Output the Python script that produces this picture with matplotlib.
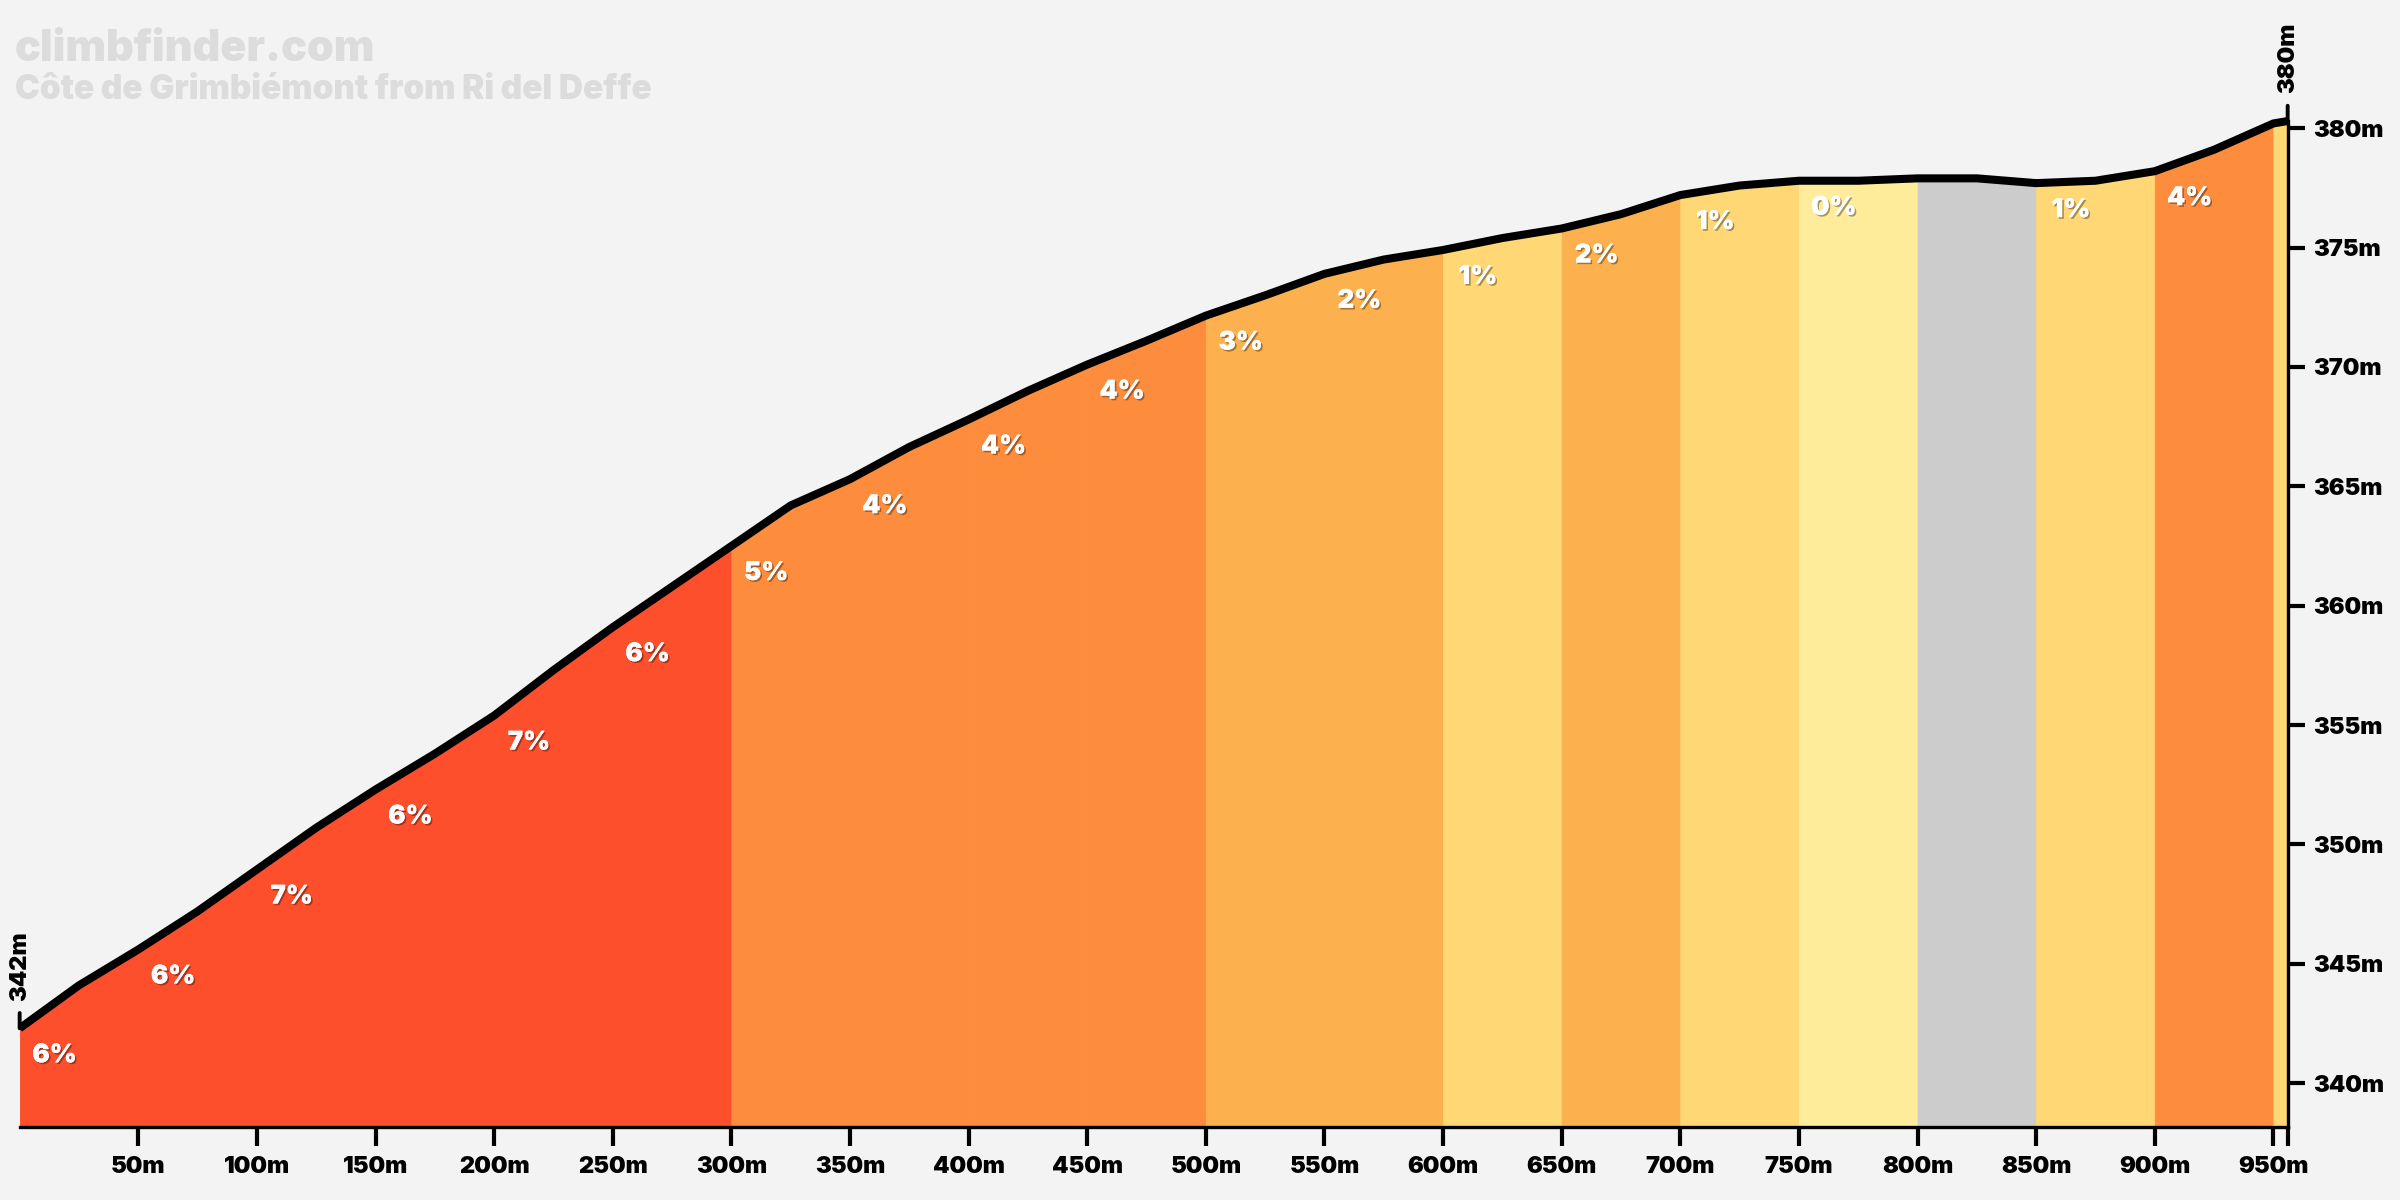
import numpy as np
import matplotlib
matplotlib.use('Agg')
import matplotlib.pyplot as plt
import matplotlib.patheffects as pe

plt.rcParams['font.family'] = ['Inter', 'DejaVu Sans']

### DATA
# elevation profile, every 25m (last point is the summit)
dist = [0, 25, 50, 75, 100, 125, 150, 175, 200, 225, 250, 275, 300, 325, 350, 375,
        400, 425, 450, 475, 500, 525, 550, 575, 600, 625, 650, 675, 700, 725, 750,
        775, 800, 825, 850, 875, 900, 925, 950, 956]
elev = [342.3, 344.1, 345.6, 347.2, 348.95, 350.7, 352.3, 353.8, 355.4, 357.3,
        359.1, 360.8, 362.5, 364.2, 365.3, 366.65, 367.8, 369.0, 370.1, 371.1,
        372.15, 373.0, 373.9, 374.5, 374.9, 375.4, 375.8, 376.4, 377.2, 377.6,
        377.8, 377.8, 377.9, 377.9, 377.7, 377.8, 378.2, 379.1, 380.2, 380.3]

# 50m segments: start, colour and gradient label
seg_start = [0, 50, 100, 150, 200, 250, 300, 350, 400, 450, 500, 550, 600, 650,
             700, 750, 800, 850, 900, 950]
seg_color = ['#FE4F2D', '#FE4F2D', '#FE4F2D', '#FE4F2D', '#FE4F2D', '#FE4F2D',
             '#FE8C3D', '#FE8C3D', '#FE8C3D', '#FE8C3D',
             '#FDB14E', '#FDB14E', '#FFD774', '#FDB14E', '#FFD774', '#FFEC9B',
             '#CCCCCC', '#FFD774', '#FE8C3D', '#FFD774']
seg_grade = ['6%', '6%', '7%', '6%', '7%', '6%', '5%', '4%', '4%', '4%', '3%', '2%',
             '1%', '2%', '1%', '0%', '', '1%', '4%', '']

xticks = [50, 100, 150, 200, 250, 300, 350, 400, 450, 500, 550, 600, 650, 700,
          750, 800, 850, 900, 950]
yticks = [340, 345, 350, 355, 360, 365, 370, 375, 380]

title = 'climbfinder.com'
subtitle = 'Côte de Grimbiémont from Ri del Deffe'

bg = '#F3F3F3'
ybottom = 338.18

### FIGURE
fig = plt.figure(figsize=(12, 6), dpi=200, facecolor=bg)
ax = fig.add_axes([0.00819, 0.0611, 0.945, 0.9389])
ax.set_facecolor(bg)
ax.set_xlim(0, dist[-1])
ax.set_ylim(ybottom, 385.37)

# coloured segments under the profile
seg_end = seg_start[1:] + [dist[-1]]
for a, b, c in zip(seg_start, seg_end, seg_color):
    xs = [a] + [d for d in dist if a < d < b] + [b]
    ys = np.interp(xs, dist, elev)
    ax.fill_between(xs, ys, ybottom, color=c, lw=0.3, edgecolor=c, zorder=1)

# profile line
ax.plot(dist, elev, color='black', lw=2.9, solid_capstyle='butt',
        solid_joinstyle='round', zorder=3)

# gradient labels
shadow = [pe.withSimplePatchShadow(offset=(0.6, -0.6), shadow_rgbFace='black', alpha=0.35),
          pe.Normal()]
for a, g in zip(seg_start, seg_grade):
    if not g:
        continue
    ax.annotate(g, xy=(a + 14.7, np.interp(a, dist, elev)), xytext=(0, -9.9),
                textcoords='offset points', ha='center', va='center',
                color='white', fontsize=9.3, fontweight='black',
                path_effects=shadow, zorder=4)

# start / end elevation markers
for d, e in [(dist[0], elev[0]), (dist[-1], elev[-1])]:
    ax.annotate('%dm' % round(e), xy=(d, e), xytext=(0, 10), textcoords='offset points',
                rotation=90, ha='center', va='bottom', fontsize=8.5, fontweight='black',
                arrowprops=dict(arrowstyle='-', lw=1.4, color='black', shrinkA=2.5, shrinkB=0),
                zorder=5)

# axes
for s in ['top', 'left']:
    ax.spines[s].set_visible(False)
ax.spines['bottom'].set_linewidth(1.2)
ax.spines['right'].set_linewidth(1.2)
ax.spines['right'].set_bounds(ybottom, elev[-1])
ax.yaxis.tick_right()
ax.set_xticks(xticks + [dist[-1]])
ax.set_xticklabels(['%dm' % t for t in xticks] + [''])
ax.set_yticks(yticks)
ax.set_yticklabels(['%dm' % t for t in yticks])
ax.tick_params(axis='x', length=7, width=1.5, pad=3.5, labelsize=8.5)
ax.tick_params(axis='y', length=6, width=1.5, pad=3, labelsize=8.5)
for lab in ax.get_xticklabels() + ax.get_yticklabels():
    lab.set_fontweight('black')

# title
fig.text(15 / 2400, 1 - 61 / 1200, title, fontsize=15.5, fontweight='black',
         color='#DCDCDC', va='baseline', ha='left')
fig.text(15 / 2400, 1 - 99 / 1200, subtitle, fontsize=12, fontweight='black',
         color='#DCDCDC', va='baseline', ha='left')

plt.savefig('out.png', dpi=200, facecolor=bg)
